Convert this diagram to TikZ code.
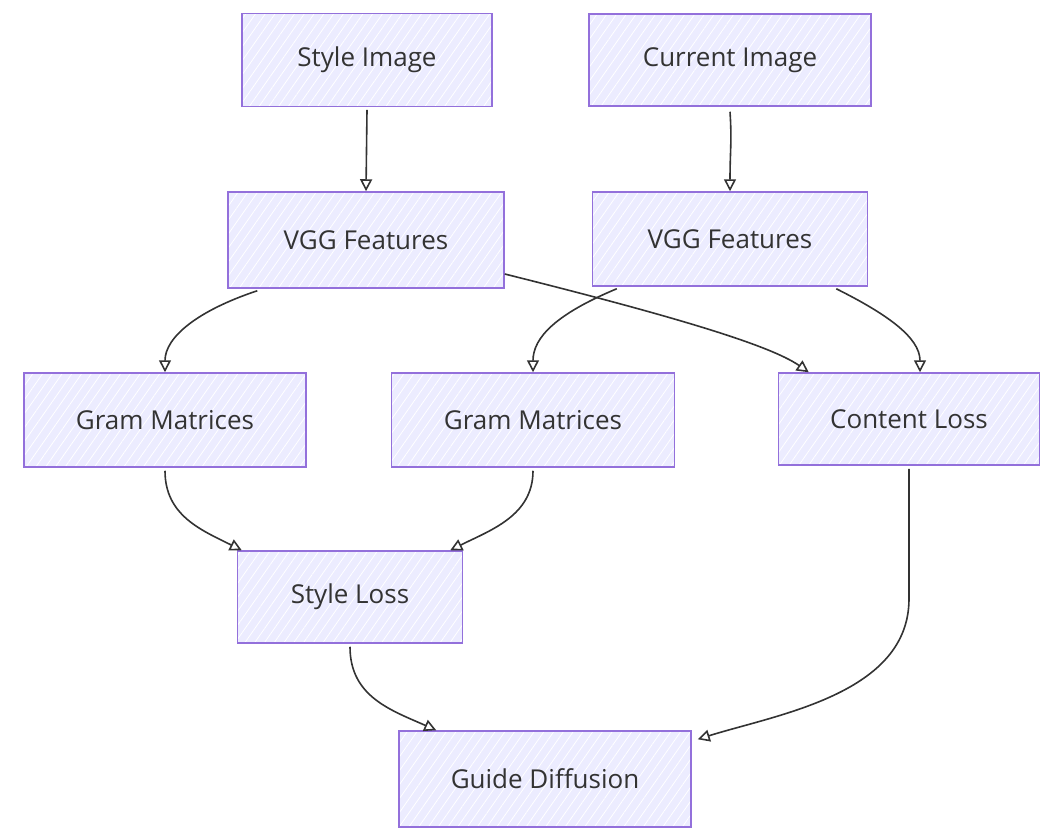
\documentclass[tikz,border=0pt]{standalone}
\usepackage{fontspec}
\setmainfont{Open Sans}
\usepackage{tikz}
\usetikzlibrary{arrows.meta,calc,patterns.meta}
\definecolor{boxfill}{HTML}{ECECFF}
\definecolor{boxline}{HTML}{9370DB}
\definecolor{ink}{HTML}{333333}

\begin{document}
\begin{tikzpicture}[x=1pt,y=-1pt,
  box/.style={draw=boxline,line width=1.5pt,preaction={fill=boxfill},
    pattern={Lines[angle=55,distance=8pt,line width=0.8pt]},pattern color=white,
    text=ink,font=\fontsize{26}{30}\selectfont,inner sep=0pt},
  edge/.style={draw=ink,line width=1.6pt,-{Triangle[open,length=12pt,width=12pt,line width=1.6pt]}}]
\useasboundingbox (0,0) rectangle (1063,839);
%Boxes
\node[box,minimum width=250pt,minimum height=93pt] (styleImg) at (367,60) {Style Image};
\node[box,minimum width=282pt,minimum height=92pt] (curImg) at (730,60) {Current Image};
\node[box,minimum width=276pt,minimum height=96pt] (vggL) at (366,240) {VGG Features};
\node[box,minimum width=275pt,minimum height=94pt] (vggR) at (730,239) {VGG Features};
\node[box,minimum width=282pt,minimum height=94pt] (gramL) at (165,420) {Gram Matrices};
\node[box,minimum width=283pt,minimum height=94pt] (gramM) at (533,420) {Gram Matrices};
\node[box,minimum width=261pt,minimum height=92pt] (content) at (909,419) {Content Loss};
\node[box,minimum width=225pt,minimum height=92pt] (styleLoss) at (350,597) {Style Loss};
\node[box,minimum width=292pt,minimum height=96pt] (guide) at (545,779) {Guide Diffusion};
%Edges
\draw[edge] ($(styleImg.south)+(0,3)$) -- (vggL.north);
\draw[edge] ($(curImg.south)+(0,5)$) .. controls +(2,30) and +(0,-40) .. (vggR.north);
\draw[edge] ($(vggL.south west)+(30,2)$) .. controls +(-60,20) and +(0,-35) .. (gramL.north);
\draw[edge] ($(vggL.east)+(0,34)$) .. controls +(160,40) and +(-40,-28) .. ($(content.north west)+(31,0)$);
\draw[edge] ($(vggR.south west)+(25,2)$) .. controls +(-60,25) and +(0,-35) .. (gramM.north);
\draw[edge] ($(vggR.south east)+(-32,2)$) .. controls +(50,25) and +(0,-35) .. ($(content.north)+(11,0)$);
\draw[edge] ($(gramL.south)+(0,3)$) .. controls +(0,45) and +(-40,-20) .. ($(styleLoss.north west)+(5,0)$);
\draw[edge] ($(gramM.south)+(0,3)$) .. controls +(0,45) and +(40,-20) .. ($(styleLoss.north east)+(-13,0)$);
\draw[edge] ($(content.south)+(0,3)$) -- ++(0,130) .. controls +(0,95) and +(80,-25) .. ($(guide.north east)+(6,9)$);
\draw[edge] ($(styleLoss.south)+(0,3)$) .. controls +(0,50) and +(-45,-20) .. ($(guide.north west)+(38,0)$);
\end{tikzpicture}
\end{document}
